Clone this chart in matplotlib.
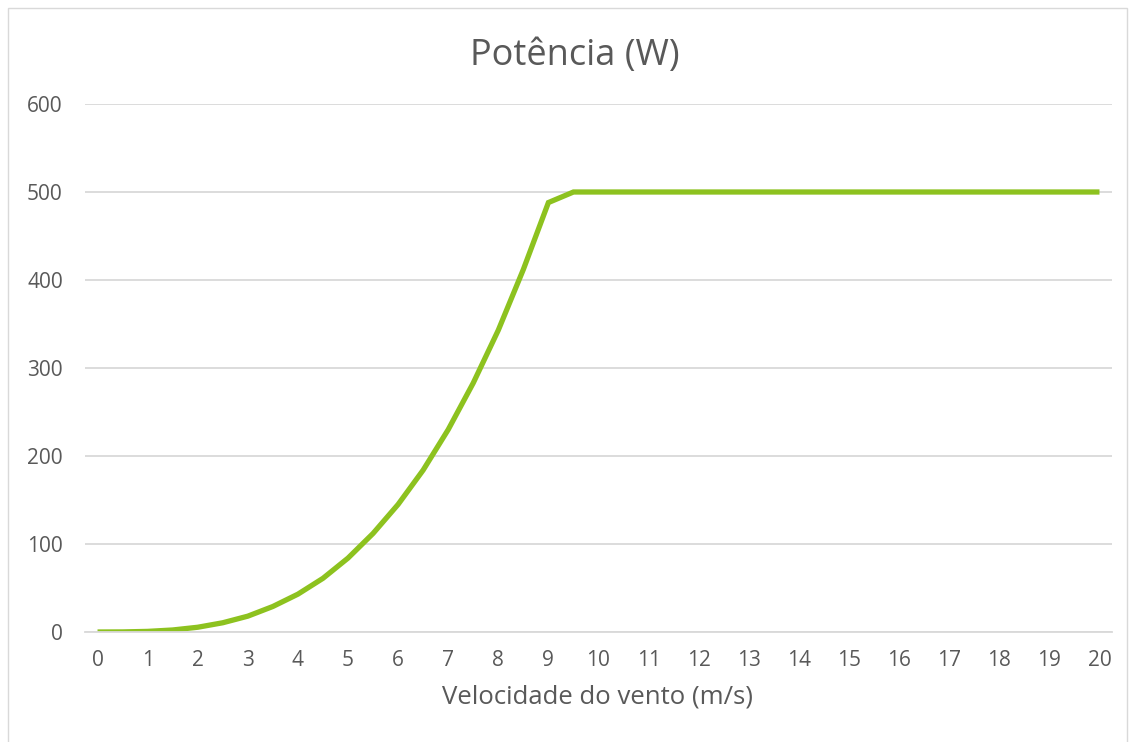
import matplotlib
matplotlib.use("Agg")
import matplotlib.pyplot as plt
from matplotlib.patches import Rectangle

# wind speed (m/s) and power (W)
wind_speed = [0, 0.5, 1, 1.5, 2, 2.5, 3, 3.5, 4, 4.5, 5, 5.5, 6, 6.5, 7, 7.5,
              8, 8.5, 9, 9.5, 10, 10.5, 11, 11.5, 12, 12.5, 13, 13.5, 14,
              14.5, 15, 15.5, 16, 16.5, 17, 17.5, 18, 18.5, 19, 19.5, 20]
power = [0, 0.1, 0.7, 2.3, 5.4, 10.5, 18, 29, 43, 61, 84, 112, 145, 184, 230,
         283, 343, 412, 488] + [500] * 22
x_ticks = list(range(0, 21))
y_ticks = [0, 100, 200, 300, 400, 500, 600]

text_color = "#595959"
plt.rcParams["font.family"] = ["Open Sans", "DejaVu Sans"]

fig = plt.figure(figsize=(11.34, 7.42), dpi=100)
W, H = 1134, 742
# chart border
fig.patches.append(Rectangle((8 / W, -0.01), (1127 - 8) / W, (742 - 8) / H + 0.01,
                             transform=fig.transFigure, fill=False,
                             edgecolor="#D9D9D9", linewidth=1.0))

ax = fig.add_axes([85 / W, (H - 632) / H, (1112 - 85) / W, (632 - 104) / H])
ax.plot(wind_speed, power, color="#8DC21F", linewidth=3.8,
        solid_joinstyle="miter", solid_capstyle="butt")
ax.set_xlim(-0.25, 20.25)
ax.set_ylim(0, 600)
ax.set_xticks(x_ticks)
ax.set_yticks(y_ticks)
ax.grid(axis="y", color="#D9D9D9", linewidth=1.3)
ax.set_axisbelow(True)
for side in ["top", "right", "left"]:
    ax.spines[side].set_visible(False)
ax.spines["bottom"].set_color("#D9D9D9")
ax.spines["bottom"].set_linewidth(1.3)
ax.tick_params(length=0, labelsize=15, labelcolor=text_color)
ax.tick_params(axis="x", pad=13)
ax.tick_params(axis="y", pad=16)
fig.text(598 / W, (H - 703) / H, "Velocidade do vento (m/s)", ha="center",
         va="baseline", fontsize=18.5, color=text_color)
fig.text(575 / W, (H - 65) / H, "Potência (W)", ha="center", va="baseline",
         fontsize=26, color=text_color)

fig.savefig("out.png", dpi=100)
